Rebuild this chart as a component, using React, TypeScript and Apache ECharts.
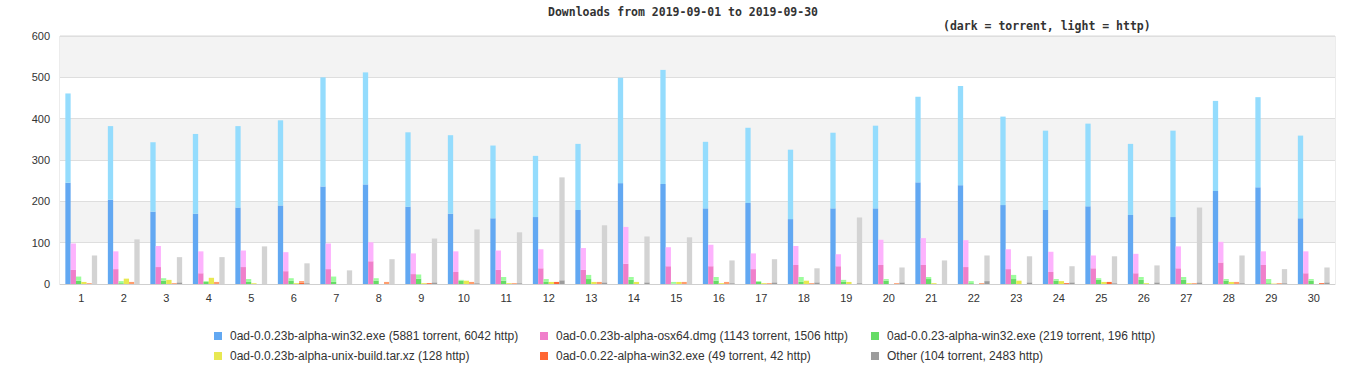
import React, { useEffect, useRef } from "react";
import * as echarts from "echarts";

const days = ["1","2","3","4","5","6","7","8","9","10","11","12","13","14","15","16","17","18","19","20","21","22","23","24","25","26","27","28","29","30"];

const names = [
  "0ad-0.0.23b-alpha-win32.exe (5881 torrent, 6042 http)",
  "0ad-0.0.23b-alpha-osx64.dmg (1143 torrent, 1506 http)",
  "0ad-0.0.23-alpha-win32.exe (219 torrent, 196 http)",
  "0ad-0.0.23b-alpha-unix-build.tar.xz (128 http)",
  "0ad-0.0.22-alpha-win32.exe (49 torrent, 42 http)",
  "Other (104 torrent, 2483 http)",
];

const win32Torrent = [245,204,175,170,185,190,236,241,187,170,159,162,179,244,242,183,196,157,183,183,246,239,191,179,188,167,162,225,234,159];
const win32Http = [216,178,168,193,197,206,264,271,180,190,176,148,160,255,276,161,182,168,183,200,207,240,214,192,200,172,209,218,218,200];
const osxTorrent = [34,36,41,26,41,31,36,55,24,29,34,38,34,49,43,43,36,46,43,46,46,41,36,29,38,26,38,52,46,26];
const osxHttp = [64,43,51,53,40,46,62,46,50,50,47,46,53,89,46,52,38,46,29,61,65,65,48,49,31,47,53,50,33,53];
const win23Torrent = [8,2,8,5,5,8,5,8,13,8,8,5,12,10,1,8,5,5,5,8,12,2,12,8,10,10,10,8,2,8];
const win23Http = [10,5,6,2,7,6,13,6,10,2,9,7,10,7,4,9,2,12,5,4,5,5,10,4,4,7,7,4,10,4];
const unixHttp = [5,13,10,15,2,2,0,0,2,8,2,5,5,5,5,2,2,8,5,0,2,0,8,7,5,2,2,5,1,0];
const win22Torrent = [0,0,0,0,0,3,0,0,2,0,0,5,0,0,0,0,0,0,0,0,0,0,0,2,5,0,0,0,0,2];
const win22Http = [2,5,2,5,0,4,0,5,0,5,2,0,5,0,5,5,2,2,0,2,0,2,0,0,0,0,2,5,2,0];
const otherTorrent = [0,0,4,0,0,2,0,0,4,2,2,9,4,4,0,2,4,4,2,4,0,7,4,4,2,4,4,2,2,4];
const otherHttp = [69,108,61,65,91,48,33,60,106,130,123,249,138,111,113,55,56,34,159,36,57,62,63,39,65,41,181,67,34,36];

const darkColors = ["#62a8f2", "#f07fcb", "#66dc66", "#e8e852", "#ff6633", "#9c9c9c"];
const lightColors = ["#94dcfd", "#fdb3fd", "#9dfd9d", "#e8e852", "#ff9c6c", "#d3d3d3"];

export default function App() {
  const ref = useRef<HTMLDivElement>(null);
  useEffect(() => {
    document.body.style.margin = "0";
    if (!ref.current) return;
    const chart = echarts.init(ref.current, undefined, { renderer: "svg" });
    const barW = 5.3;
    const mk = (name: string, stack: string, data: number[], color: string) => ({
      name,
      type: "bar",
      stack,
      data,
      barWidth: barW,
      barGap: "0%",
      itemStyle: { color },
      emphasis: { disabled: true },
    });
    const series: any[] = [
      mk(names[0], "a", win32Torrent, darkColors[0]),
      mk(names[0], "a", win32Http, lightColors[0]),
      mk(names[1], "b", osxTorrent, darkColors[1]),
      mk(names[1], "b", osxHttp, lightColors[1]),
      mk(names[2], "c", win23Torrent, darkColors[2]),
      mk(names[2], "c", win23Http, lightColors[2]),
      mk(names[3], "d", unixHttp, darkColors[3]),
      mk(names[4], "e", win22Torrent, darkColors[4]),
      mk(names[4], "e", win22Http, lightColors[4]),
      mk(names[5], "f", otherTorrent, darkColors[5]),
      mk(names[5], "f", otherHttp, lightColors[5]),
    ];
    const titleStyle = {
      fontFamily: "DejaVu Sans Mono",
      fontWeight: "bold" as const,
      fontSize: 11.5,
      color: "#333",
    };
    const legendBase = {
      orient: "vertical" as const,
      top: 325,
      itemGap: 8,
      itemWidth: 14,
      itemHeight: 8,
      icon: "path://M0,0H10V10H0Z",
      selectedMode: false,
      textStyle: { fontFamily: "Liberation Sans", fontSize: 12, color: "#333" },
    };
    chart.setOption({
      animation: false,
      title: [
        { text: "Downloads from 2019-09-01 to 2019-09-30", left: "center", top: 6, padding: 0, textStyle: titleStyle },
        { text: "(dark = torrent, light = http)", left: 943, top: 20, padding: 0, textStyle: titleStyle },
      ],
      legend: [
        { ...legendBase, left: 209, data: [names[0], names[3]] },
        { ...legendBase, left: 535, data: [names[1], names[4]] },
        { ...legendBase, left: 866, data: [names[2], names[5]] },
      ],
      grid: {
        left: 60,
        right: 31,
        top: 36,
        bottom: 96,
        show: true,
        borderColor: "#d9d9d9",
        borderWidth: 1,
        backgroundColor: "transparent",
      },
      xAxis: {
        type: "category",
        data: days,
        axisTick: { show: false },
        axisLine: { lineStyle: { color: "#cfcfcf" } },
        axisLabel: { color: "#333", fontFamily: "Liberation Sans", fontSize: 11, margin: 8, interval: 0 },
      },
      yAxis: {
        type: "value",
        min: 0,
        max: 600,
        interval: 100,
        axisLine: { show: false },
        axisTick: { show: false },
        axisLabel: { color: "#333", fontFamily: "Liberation Sans", fontSize: 11, margin: 10 },
        splitLine: { lineStyle: { color: "#dedede" } },
        splitArea: { show: true, areaStyle: { color: ["#ffffff", "#f3f3f3"] } },
      },
      series,
    });
    return () => chart.dispose();
  }, []);
  return <div ref={ref} style={{ width: 1366, height: 380 }} />;
}
